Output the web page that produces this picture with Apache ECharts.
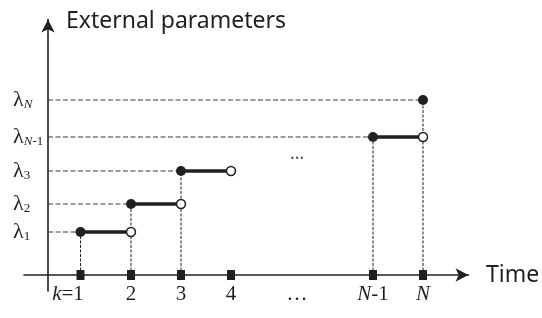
<!DOCTYPE html>
<html>
<head>
<meta charset="utf-8">
<script src="https://cdn.jsdelivr.net/npm/echarts@6/dist/echarts.min.js"></script>
<style>
html, body { margin: 0; padding: 0; background: #fff; }
#chart { width: 542px; height: 318px; }
</style>
</head>
<body>
<div id="chart"></div>
<script>
// step times on the time axis (1 unit = one step width, y axis at 0)
const timeX = [0.65, 1.66, 2.66, 3.66, 6.5, 7.5];
const timeLabels = ['k=1', '2', '3', '4', 'N-1', 'N'];
const gapX = 4.98; // the "..." between 4 and N-1

// parameter levels lambda_1 .. lambda_N
const levels = [43, 71, 104, 138, 175];
const levelSubs = ['1', '2', '3', 'N-1', 'N'];
// index into timeX where each level starts (filled dot)
const levelStart = [0, 1, 2, 4, 5];
const gapY = 121; // the "..." between lambda_3 and lambda_N-1

const ink = '#231f20';
const serif = '"Liberation Serif", "DejaVu Serif", serif';
const sans = '"Noto Sans", sans-serif';

// k and N are italic, everything else upright
const toRich = (s, it, up) =>
  s.replace(/([kN])|([^kN]+)/g, (m, a, b) => a ? '{' + it + '|' + a + '}' : '{' + up + '|' + b + '}');

const xLabel = (v) => {
  if (v === gapX) return '{u|…}';
  const i = timeX.indexOf(v);
  if (i < 0) return '';
  let s = toRich(timeLabels[i], 'i', 'u');
  if (timeLabels[i].indexOf('=') > 0) s += '{sp|}'; // keep "1" centred under the tick
  return s;
};

const yLabel = (v) => {
  const i = levels.indexOf(v);
  if (i < 0) return '';
  return '{l|λ}' + toRich(levelSubs[i], 'si', 's');
};

const dashGuide = { type: [5, 2.5], width: 1.2, color: '#3a3a3a' };
const dashRise = { type: [3, 1.5], width: 1, color: ink };

const series = [];

// horizontal dashed guides from the y axis to each filled dot
levels.forEach((v, i) => {
  series.push({
    type: 'line', symbol: 'none', silent: true, z: 1, clip: false,
    lineStyle: dashGuide,
    data: [[0, v], [timeX[levelStart[i]], v]]
  });
});

// vertical dashed lines from the time ticks up to each level
levels.forEach((v, i) => {
  series.push({
    type: 'line', symbol: 'none', silent: true, z: 1, clip: false,
    lineStyle: dashRise,
    data: [[timeX[levelStart[i]], 0], [timeX[levelStart[i]], v]]
  });
});

// thick steps: level held until the next time
levels.slice(0, -1).forEach((v, i) => {
  series.push({
    type: 'line', symbol: 'none', silent: true, z: 3, clip: false,
    lineStyle: { width: 3.5, color: ink },
    data: [[timeX[levelStart[i]], v], [timeX[levelStart[i] + 1], v]]
  });
});

// filled dots
series.push({
  type: 'scatter', z: 5, symbolSize: 10, clip: false,
  itemStyle: { color: ink, opacity: 1 },
  data: levels.map((v, i) => [timeX[levelStart[i]], v])
});

// open dots
series.push({
  type: 'scatter', z: 6, symbolSize: 9, clip: false,
  itemStyle: { color: '#fff', borderColor: ink, borderWidth: 1.5, opacity: 1 },
  data: levels.slice(0, -1).map((v, i) => [timeX[levelStart[i] + 1], v])
});

// square markers on the time axis
series.push({
  type: 'scatter', z: 5, symbol: 'rect', symbolSize: [8, 10], clip: false,
  itemStyle: { color: ink, opacity: 1 },
  data: timeX.map(x => [x, 0])
});

// "..." between the levels
series.push({
  type: 'scatter', z: 5, symbolSize: 0, clip: false,
  label: { show: true, position: 'inside', formatter: '…', color: ink, fontFamily: sans, fontSize: 18 },
  data: [[gapX, gapY]]
});

const noLine = { show: false };
const axisLine = { onZero: true, lineStyle: { color: ink, width: 1.6 }, symbol: ['none', 'arrow'], symbolSize: [10, 13] };

const chart = echarts.init(document.getElementById('chart'));
chart.setOption({
  animation: false,
  backgroundColor: '#fff',
  grid: [
    // plot area: left / bottom edges on the two axis lines, carries the labels
    { left: 48, right: 73.5, top: 19.5, bottom: 43, containLabel: false, outerBoundsMode: 'none' },
    // same scale, a bit wider, carries the arrowed axis lines that cross at zero
    { left: 24, right: 73.5, top: 19.5, bottom: 27, containLabel: false, outerBoundsMode: 'none' }
  ],
  xAxis: [{
    gridIndex: 0,
    type: 'value',
    min: 0, max: 8.41,
    axisLine: noLine,
    axisTick: { show: false },
    splitLine: { show: false },
    axisLabel: {
      customValues: timeX.concat([gapX]),
      margin: 9,
      formatter: xLabel,
      rich: {
        i: { fontFamily: serif, fontStyle: 'italic', fontSize: 21, color: ink },
        u: { fontFamily: serif, fontSize: 21, color: ink },
        sp: { width: 25 }
      }
    }
  }, {
    gridIndex: 1,
    type: 'value',
    min: -0.48, max: 8.41,
    name: 'Time',
    nameLocation: 'end',
    nameGap: 17.5,
    nameTextStyle: { color: ink, fontFamily: sans, fontSize: 23, verticalAlign: 'middle' },
    axisLine: axisLine,
    axisTick: { show: false },
    splitLine: { show: false },
    axisLabel: { show: false }
  }],
  yAxis: [{
    gridIndex: 0,
    type: 'value',
    min: 0, max: 255.5,
    axisLine: noLine,
    axisTick: { show: false },
    splitLine: { show: false },
    axisLabel: {
      customValues: levels,
      margin: 35,
      align: 'left',
      formatter: yLabel,
      rich: {
        l: { fontFamily: serif, fontSize: 22, lineHeight: 22, color: ink },
        s: { fontFamily: serif, fontSize: 13, lineHeight: 12, verticalAlign: 'bottom', color: ink },
        si: { fontFamily: serif, fontStyle: 'italic', fontSize: 13, lineHeight: 12, verticalAlign: 'bottom', color: ink }
      }
    }
  }, {
    gridIndex: 1,
    type: 'value',
    min: -16, max: 255.5,
    name: 'External parameters',
    nameLocation: 'end',
    nameGap: -1.5,
    nameTextStyle: { color: ink, fontFamily: sans, fontSize: 23, align: 'left', verticalAlign: 'middle', padding: [0, 0, 0, 18] },
    axisLine: axisLine,
    axisTick: { show: false },
    splitLine: { show: false },
    axisLabel: { show: false }
  }],
  series: series
});
</script>
</body>
</html>
